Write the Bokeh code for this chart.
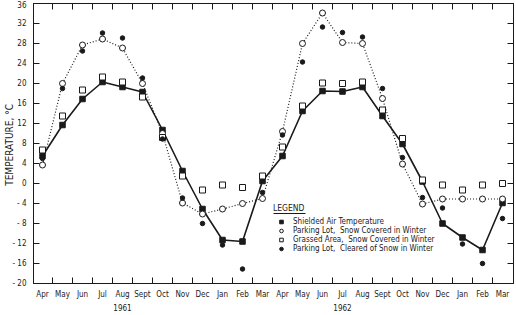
from bokeh.plotting import figure
from bokeh.models import (Range1d, FixedTicker, LinearAxis, Legend, LegendItem,
                          BoxAnnotation, ColumnDataSource)
from bokeh.embed import file_html
from bokeh.resources import INLINE

# ---------------- data ----------------
months = ["Apr", "May", "Jun", "Jul", "Aug", "Sept", "Oct", "Nov", "Dec", "Jan", "Feb", "Mar",
          "Apr", "May", "Jun", "Jul", "Aug", "Sept", "Oct", "Nov", "Dec", "Jan", "Feb", "Mar"]
years = ["1961", "1962"]
year_month_index = [4, 15]
y_ticks = [-20, -16, -12, -8, -4, 0, 4, 8, 12, 16, 20, 24, 28, 32, 36]
y_tick_labels = ["- 20", "- 16", "- 12", "- 8", "- 4", "0", "4", "8", "12", "16", "20",
                 "24", "28", "32", "36"]

shielded_air = [5.5, 11.7, 16.9, 20.3, 19.3, 18.3, 10.7, 2.5, -5.1, -11.3, -11.6, 0.5,
                5.5, 14.5, 18.5, 18.4, 19.3, 13.5, 7.9, 0.4, -8.0, -10.8, -13.3, -3.9]
parking_snow = [3.7, 20.0, 27.7, 28.9, 27.1, 20.0, 10.0, -3.9, -6.1, -5.1, -4.0, -3.0,
                10.4, 28.0, 34.1, 28.2, 28.0, 17.0, 3.9, -4.1, -3.1, -3.1, -3.1, -3.1]
grassed_snow = [6.7, 13.5, 18.7, 21.3, 20.3, 17.3, 9.2, 1.5, -1.3, -0.3, -0.8, 1.5,
                7.3, 15.5, 20.1, 20.0, 20.3, 14.7, 9.0, 0.7, -0.3, -1.3, -0.3, 0.0]
parking_cleared = [5.0, 19.0, 26.5, 30.1, 29.1, 21.1, 8.9, -2.9, -8.0, -12.3, -17.1, -1.8,
                   9.7, 24.3, 31.3, 30.2, 29.3, 19.0, 5.2, -2.8, -4.9, -12.1, -16.0, -7.0]

legend_labels = ["Shielded Air Temperature",
                 "Parking Lot,  Snow Covered in Winter",
                 "Grassed Area,  Snow Covered in Winter",
                 "Parking Lot,  Cleared of Snow in Winter"]

# ---------------- styling ----------------
FONT = "DejaVu Sans Condensed"
INK = "#1a1a1a"

xs = list(range(len(months)))
boundaries = [i + 0.5 for i in range(len(months) - 1)]
src = ColumnDataSource(dict(x=xs, air=shielded_air, snow=parking_snow,
                            grass=grassed_snow, cleared=parking_cleared))

p = figure(width=516, height=315, output_backend="svg", toolbar_location=None,
           x_range=Range1d(-0.45, 23.55), y_range=Range1d(-20, 36),
           x_axis_location=None, y_axis_location=None,
           min_border_left=33, min_border_right=3, min_border_top=3, min_border_bottom=32)
p.grid.visible = False
p.outline_line_color = INK
p.outline_line_width = 1
p.background_fill_color = "white"
p.border_fill_color = "white"

# left axis
yl = LinearAxis(ticker=FixedTicker(ticks=y_ticks),
                major_label_overrides={t: l for t, l in zip(y_ticks, y_tick_labels)},
                axis_label="TEMPERATURE,  °C")
# right axis (ticks only)
yr = LinearAxis(ticker=FixedTicker(ticks=y_ticks),
                major_label_overrides={t: "" for t in y_ticks})
# bottom month axis
xb = LinearAxis(ticker=FixedTicker(ticks=xs, minor_ticks=boundaries),
                major_label_overrides={i: m for i, m in zip(xs, months)})
# bottom year axis
xy = LinearAxis(ticker=FixedTicker(ticks=year_month_index),
                major_label_overrides={i: y for i, y in zip(year_month_index, years)})
# top axis (ticks only)
xt = LinearAxis(ticker=FixedTicker(ticks=boundaries),
                major_label_overrides={b: "" for b in boundaries})

for ax in (yl, yr, xb, xy, xt):
    ax.axis_line_color = INK
    ax.major_tick_line_color = INK
    ax.minor_tick_line_color = INK
    ax.major_label_text_font = FONT
    ax.major_label_text_color = INK
    ax.major_label_text_font_size = "8px"
    ax.axis_label_text_font = FONT
    ax.axis_label_text_font_style = "normal"
    ax.axis_label_text_font_size = "10px"
    ax.axis_label_text_color = INK
    ax.major_tick_out = 0
    ax.minor_tick_out = 0

yl.major_tick_in = 6
yl.minor_tick_line_color = None
yl.major_label_standoff = 7
yl.axis_label_standoff = -6

yr.major_tick_in = 6
yr.minor_tick_line_color = None
yr.major_label_standoff = 0
yr.major_label_text_font_size = "0px"

xb.major_tick_in = 0
xb.minor_tick_in = 6
xb.major_label_standoff = 6

xy.axis_line_color = None
xy.major_tick_line_color = None
xy.minor_tick_line_color = None
xy.major_tick_in = 0
xy.minor_tick_in = 0
xy.major_label_standoff = 2

xt.major_tick_in = 6
xt.minor_tick_line_color = None
xt.major_label_standoff = 0
xt.major_label_text_font_size = "0px"

p.add_layout(yl, "left")
p.add_layout(yr, "right")
p.add_layout(xb, "below")
p.add_layout(xy, "below")
p.add_layout(xt, "above")

# ---------------- series ----------------
p.line("x", "air", source=src, line_color=INK, line_width=1.6)
p.line("x", "snow", source=src, line_color=INK, line_width=1.2, line_dash="1 2")
r_air = p.scatter("x", "air", source=src, marker="square", size=5.5,
                  fill_color=INK, line_color=INK)
r_snow = p.scatter("x", "snow", source=src, marker="circle", size=6,
                   fill_color="white", line_color=INK, line_width=1)
r_grass = p.scatter("x", "grass", source=src, marker="square", size=6,
                    fill_color="white", line_color=INK, line_width=1)
r_clear = p.scatter("x", "cleared", source=src, marker="circle", size=4.5,
                    fill_color=INK, line_color=INK)

legend = Legend(items=[LegendItem(label=legend_labels[0], renderers=[r_air]),
                       LegendItem(label=legend_labels[1], renderers=[r_snow]),
                       LegendItem(label=legend_labels[2], renderers=[r_grass]),
                       LegendItem(label=legend_labels[3], renderers=[r_clear])],
                location=(240, 30), title="LEGEND")
legend.border_line_alpha = 0
legend.background_fill_alpha = 0
legend.padding = 0
legend.margin = 0
legend.spacing = 0
legend.label_height = 9
legend.glyph_height = 9
legend.glyph_width = 16
legend.label_standoff = 4
legend.label_text_font = FONT
legend.label_text_font_size = "8px"
legend.label_text_color = INK
legend.title_text_font = FONT
legend.title_text_font_size = "8.5px"
legend.title_text_font_style = "normal"
legend.title_text_color = INK
legend.title_standoff = 4
p.add_layout(legend)

# underline of the legend title
p.add_layout(BoxAnnotation(left=11.55, right=13.15, top=-5.9, bottom=-6.1,
                           fill_color=INK, fill_alpha=1, line_color=None))

open("out.html", "w").write(file_html(p, INLINE))
